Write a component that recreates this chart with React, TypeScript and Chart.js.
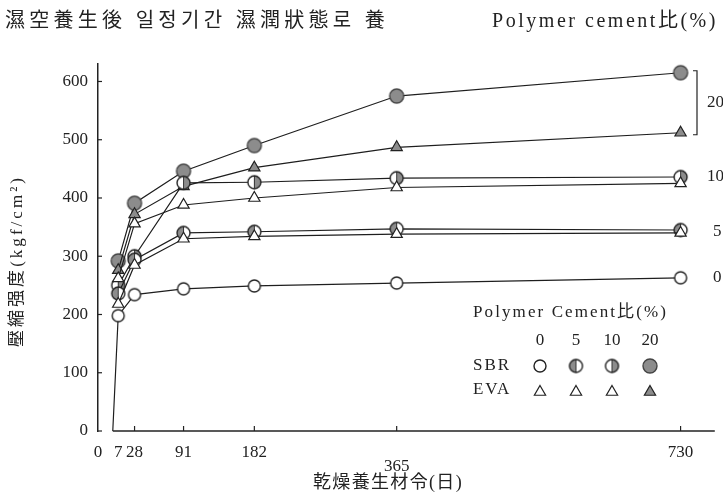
import React, { useEffect, useRef } from 'react';
import { Chart, registerables } from 'chart.js';

Chart.register(...registerables);

// ---- Data ----
const dryDays = [7, 28, 91, 182, 365, 730];
const sbr0Days = [0, 7, 28, 91, 182, 365, 730];
const sbr0 = [0, 198, 234, 244, 249, 254, 263];
const sbr5 = [236, 294, 340, 342, 347, 345];
const sbr10 = [250, 300, 426, 427, 434, 436];
const sbr20 = [292, 391, 446, 490, 575, 615];
const eva5 = [218, 285, 330, 334, 338, 340];
const eva10 = [262, 356, 388, 400, 418, 425];
const eva20 = [276, 372, 420, 452, 487, 512];

const ratioLabels = ['0', '5', '10', '20'];
const xTickDays = [0, 7, 28, 91, 182, 365, 730];
const yTickValues = [0, 100, 200, 300, 400, 500, 600];

const titleLeft = '濕空養生後 일정기간 濕潤狀態로 養';
const titleRight = 'Polymer cement比(%)';
const yTitle = '壓縮强度(kgf/cm²)';
const xTitle = '乾燥養生材令(日)';
const legendTitle = 'Polymer Cement比(%)';

const X_MIN = -19;
const X_MAX = 774;

const GREY = '#8c8c8c';
const INK = '#1e1e1e';
const SERIF = "'Liberation Serif','DejaVu Serif','Noto Sans CJK JP','Noto Sans CJK KR',serif";

function circleImg(r: number, mode: 'open' | 'left' | 'right' | 'full') {
  const s = Math.ceil(2 * r + 4);
  const c = document.createElement('canvas');
  c.width = s;
  c.height = s;
  const g = c.getContext('2d')!;
  const cx = s / 2, cy = s / 2;
  g.beginPath();
  g.arc(cx, cy, r, 0, Math.PI * 2);
  g.fillStyle = mode === 'full' ? GREY : '#fff';
  g.fill();
  if (mode === 'left' || mode === 'right') {
    g.beginPath();
    if (mode === 'left') g.arc(cx, cy, r, Math.PI / 2, Math.PI * 1.5);
    else g.arc(cx, cy, r, -Math.PI / 2, Math.PI / 2);
    g.closePath();
    g.fillStyle = GREY;
    g.fill();
    g.beginPath();
    g.moveTo(cx, cy - r);
    g.lineTo(cx, cy + r);
    g.lineWidth = 1;
    g.strokeStyle = '#333';
    g.stroke();
  }
  g.beginPath();
  g.arc(cx, cy, r, 0, Math.PI * 2);
  g.lineWidth = 1.4;
  g.strokeStyle = mode === 'full' ? '#444' : '#222';
  g.stroke();
  return c;
}

function fitText(ctx: CanvasRenderingContext2D, text: string, x: number, y: number, width: number) {
  ctx.save();
  (ctx as any).letterSpacing = '0px';
  ctx.textAlign = 'left';
  ctx.textBaseline = 'middle';
  const w = ctx.measureText(text).width;
  const n = Array.from(text).length;
  const ls = Math.max(-2, (width - w) / n);
  (ctx as any).letterSpacing = ls + 'px';
  ctx.fillText(text, x, y);
  ctx.restore();
}

function triangle(ctx: CanvasRenderingContext2D, x: number, y: number, r: number, fill: string) {
  ctx.save();
  ctx.beginPath();
  for (let i = 0; i < 3; i++) {
    const a = (i * 2 * Math.PI) / 3;
    const px = x + Math.sin(a) * r;
    const py = y - Math.cos(a) * r;
    if (i === 0) ctx.moveTo(px, py);
    else ctx.lineTo(px, py);
  }
  ctx.closePath();
  ctx.fillStyle = fill;
  ctx.fill();
  ctx.lineWidth = 1.2;
  ctx.strokeStyle = '#222';
  ctx.stroke();
  ctx.restore();
}

export default function App() {
  const ref = useRef<HTMLCanvasElement | null>(null);

  useEffect(() => {
    document.body.style.margin = '0';
    const canvas = ref.current;
    if (!canvas) return;

    const imgOpen = circleImg(6, 'open');
    const imgLeft = circleImg(6.5, 'left');
    const imgRight = circleImg(6.5, 'right');
    const imgFull = circleImg(7, 'full');
    const sbrImgs = [imgOpen, imgLeft, imgRight, imgFull];
    const evaFills = ['#fff', '#fff', '#fff', GREY];

    const mk = (label: string, days: number[], vals: number[], style: any, radius: any, bg: string) => ({
      label,
      data: days.map((d, i) => ({ x: d, y: vals[i] })),
      borderColor: INK,
      borderWidth: 1.2,
      pointStyle: style,
      pointRadius: radius,
      pointBackgroundColor: bg,
      pointBorderColor: '#222',
      pointBorderWidth: 1.2,
      tension: 0,
      fill: false,
    });

    const datasets = [
      mk('SBR 0', sbr0Days, sbr0, imgOpen, (c: any) => (c.dataIndex === 0 ? 0 : 6), '#fff'),
      mk('EVA 5', dryDays, eva5, 'triangle', 6.5, evaFills[1]),
      mk('SBR 5', dryDays, sbr5, imgLeft, 6.5, '#fff'),
      mk('EVA 10', dryDays, eva10, 'triangle', 6.5, evaFills[2]),
      mk('SBR 10', dryDays, sbr10, imgRight, 6.5, '#fff'),
      mk('EVA 20', dryDays, eva20, 'triangle', 6.5, evaFills[3]),
      mk('SBR 20', dryDays, sbr20, imgFull, 7, GREY),
    ];

    const decor = {
      id: 'decor',
      afterDraw(chart: any) {
        const ctx: CanvasRenderingContext2D = chart.ctx;
        const xs = chart.scales.x;
        const ys = chart.scales.y;
        const area = chart.chartArea;
        ctx.save();
        ctx.fillStyle = '#222';
        ctx.strokeStyle = '#222';

        // titles
        ctx.font = `20px ${SERIF}`;
        fitText(ctx, titleLeft, 5, 22, 384);
        ctx.font = `20px ${SERIF}`;
        fitText(ctx, titleRight, 492, 22, 226);

        // axis titles
        ctx.font = `17px ${SERIF}`;
        ctx.save();
        ctx.translate(18, 347);
        ctx.rotate(-Math.PI / 2);
        fitText(ctx, yTitle, 0, 0, 172);
        ctx.restore();
        ctx.font = `18px ${SERIF}`;
        fitText(ctx, xTitle, 313, 483, 150);

        // x axis line (starts at day 0)
        ctx.lineWidth = 1.5;
        ctx.beginPath();
        ctx.moveTo(xs.getPixelForValue(0), area.bottom);
        ctx.lineTo(area.right, area.bottom);
        ctx.stroke();

        // inner tick marks
        ctx.lineWidth = 1.2;
        for (const v of yTickValues) {
          const py = ys.getPixelForValue(v);
          ctx.beginPath();
          ctx.moveTo(area.left, py);
          ctx.lineTo(area.left + 4, py);
          ctx.stroke();
        }
        for (const d of xTickDays.slice(2)) {
          const px = xs.getPixelForValue(d);
          ctx.beginPath();
          ctx.moveTo(px, area.bottom);
          ctx.lineTo(px, area.bottom - 5);
          ctx.stroke();
        }

        // right-end ratio labels and bracket
        const last = (a: number[]) => a[a.length - 1];
        const yS20 = ys.getPixelForValue(last(sbr20));
        const yE20 = ys.getPixelForValue(last(eva20));
        const bx = 697;
        ctx.lineWidth = 1.2;
        ctx.beginPath();
        ctx.moveTo(bx - 4, yS20 - 2);
        ctx.lineTo(bx, yS20 - 2);
        ctx.lineTo(bx, yE20 + 2);
        ctx.lineTo(bx - 4, yE20 + 2);
        ctx.stroke();
        ctx.font = `17px ${SERIF}`;
        ctx.textAlign = 'left';
        ctx.textBaseline = 'middle';
        ctx.fillText(ratioLabels[3], 707, (yS20 + yE20) / 2);
        ctx.fillText(ratioLabels[2], 707, ys.getPixelForValue(last(sbr10)));
        ctx.fillText(ratioLabels[1], 713, ys.getPixelForValue((last(sbr5) + last(eva5)) / 2));
        ctx.fillText(ratioLabels[0], 713, ys.getPixelForValue(last(sbr0)));

        // legend
        const cols = [540, 576, 612, 650];
        ctx.font = `17px ${SERIF}`;
        fitText(ctx, legendTitle, 473, 313, 195);
        ctx.textAlign = 'center';
        ctx.textBaseline = 'middle';
        ratioLabels.forEach((t, i) => ctx.fillText(t, cols[i], 341));
        ctx.textAlign = 'left';
        fitText(ctx, 'SBR', 473, 366, 38);
        fitText(ctx, 'EVA', 473, 390, 38);
        sbrImgs.forEach((img, i) => {
          ctx.drawImage(img, cols[i] - img.width / 2, 366 - img.height / 2);
        });
        evaFills.forEach((f, i) => triangle(ctx, cols[i], 392, 6.5, f));

        ctx.restore();
      },
    };

    const chart = new Chart(canvas, {
      type: 'line',
      data: { datasets: datasets as any },
      options: {
        responsive: false,
        animation: false,
        layout: { padding: { left: 0, right: 0, top: 64, bottom: 0 } },
        plugins: {
          legend: { display: false },
          tooltip: { enabled: false },
        },
        elements: { line: { tension: 0 } },
        scales: {
          x: {
            type: 'linear',
            min: X_MIN,
            max: X_MAX,
            afterBuildTicks: (s: any) => {
              // the "0" day label sits at the axis origin corner, as in the reference
              s.ticks = xTickDays.map((d) => ({ value: d === 0 ? X_MIN : d }));
            },
            afterFit: (s: any) => {
              s.height = 67;
            },
            ticks: {
              autoSkip: false,
              maxRotation: 0,
              padding: 15,
              color: '#222',
              font: { family: SERIF, size: 17, lineHeight: 0.8 },
              callback: (v: any) => {
                if (v === X_MIN) return '0';
                if (v === 365) return ['', '365'];
                return String(v);
              },
            },
            grid: { display: false, drawTicks: false },
            border: { display: false },
          },
          y: {
            type: 'linear',
            min: 0,
            max: 630,
            afterBuildTicks: (s: any) => {
              s.ticks = yTickValues.map((v) => ({ value: v }));
            },
            afterFit: (s: any) => {
              s.width = 98;
            },
            ticks: {
              padding: 10,
              color: '#222',
              font: { family: SERIF, size: 17 },
            },
            grid: { display: false, drawTicks: false },
            border: { display: true, color: '#222', width: 1.5 },
          },
        },
      },
      plugins: [decor],
    });

    return () => chart.destroy();
  }, []);

  return (
    <div style={{ width: 723, height: 498, background: '#fff' }}>
      <canvas ref={ref} width={723} height={498} style={{ display: 'block' }} />
    </div>
  );
}
